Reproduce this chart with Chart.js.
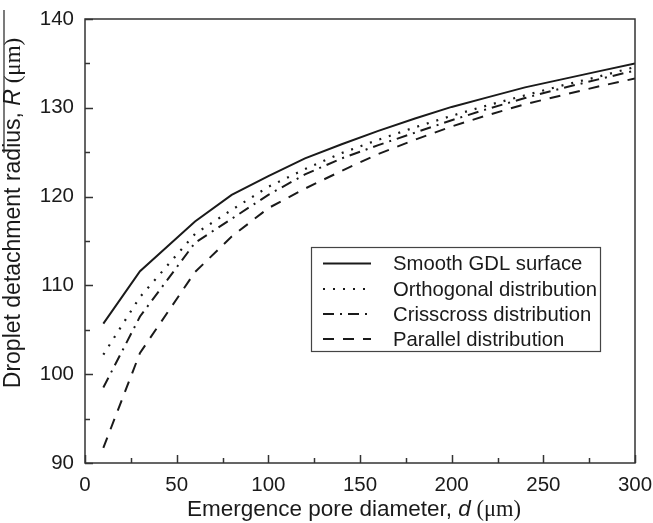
<!DOCTYPE html>
<html>
<head>
<meta charset="utf-8">
<script src="https://cdn.jsdelivr.net/npm/chart.js@4.4.1/dist/chart.umd.min.js"></script>
<style>
html,body{margin:0;padding:0;background:#fff;}
canvas{display:block;}
</style>
</head>
<body>
<canvas id="c" width="653" height="523"></canvas>
<script>
// ---- data ----
const poreDiameter = [10, 30, 60, 80, 100, 120, 140, 160, 180, 200, 220, 240, 260, 280, 300];
const smoothGDL   = [105.7, 111.6, 117.2, 120.2, 122.3, 124.3, 125.9, 127.4, 128.8, 130.1, 131.2, 132.3, 133.2, 134.1, 135.0];
const orthogonal  = [102.2, 108.7, 115.8, 118.5, 121.1, 123.1, 124.9, 126.4, 127.8, 129.1, 130.3, 131.4, 132.5, 133.5, 134.6];
const crisscross  = [98.5, 106.5, 114.8, 117.5, 120.2, 122.5, 124.3, 125.8, 127.2, 128.6, 129.9, 131.1, 132.2, 133.2, 134.2];
const parallel    = [91.7, 102.4, 111.5, 115.5, 118.7, 120.9, 122.9, 124.8, 126.4, 127.9, 129.2, 130.4, 131.4, 132.4, 133.3];
const seriesNames = ['Smooth GDL surface', 'Orthogonal distribution', 'Crisscross distribution', 'Parallel distribution'];
const xMajorTicks = [0, 50, 100, 150, 200, 250, 300];
const yMajorTicks = [90, 100, 110, 120, 130, 140];

const SANS = '"Liberation Sans", Arial, sans-serif';
const SERIF = '"Liberation Serif", "Times New Roman", serif';
const INK = '#1a1a1a';

function pts(ys){ return poreDiameter.map((x,i)=>({x:x, y:ys[i]})); }

const styles = [
  {dash: [], width: 2},
  {dash: [2, 8], width: 2.2},
  {dash: [11, 6, 2, 6], width: 2},
  {dash: [11, 9], width: 2}
];
const seriesData = [smoothGDL, orthogonal, crisscross, parallel];

const datasets = seriesData.map((d,i)=>({
  label: seriesNames[i],
  data: pts(d),
  borderColor: INK,
  backgroundColor: INK,
  borderWidth: styles[i].width,
  borderDash: styles[i].dash,
  pointRadius: 0,
  tension: 0,
  fill: false
}));

function drawRich(ctx, segs, cx, cy, rot){
  ctx.save();
  ctx.translate(cx, cy);
  if (rot) ctx.rotate(rot);
  let total = 0;
  segs.forEach(s=>{ ctx.font = s.f; s.w = ctx.measureText(s.t).width; total += s.w; });
  let x = -total/2;
  ctx.textBaseline = 'middle';
  ctx.textAlign = 'left';
  ctx.fillStyle = INK;
  segs.forEach(s=>{ ctx.font = s.f; ctx.fillText(s.t, x, 0); x += s.w; });
  ctx.restore();
}

const decor = {
  id: 'decor',
  afterDraw(chart){
    const ctx = chart.ctx, a = chart.chartArea, xs = chart.scales.x, ys = chart.scales.y;
    ctx.save();
    // frame
    ctx.strokeStyle = '#333';
    ctx.lineWidth = 1.5;
    ctx.setLineDash([]);
    ctx.strokeRect(a.left, a.top, a.right - a.left, a.bottom - a.top);
    // inward ticks
    for (let v = xs.min; v <= xs.max; v += 25){
      const p = Math.round(xs.getPixelForValue(v)) + 0.5;
      const len = (v % 50 === 0) ? 8 : 5;
      ctx.beginPath(); ctx.moveTo(p, a.bottom); ctx.lineTo(p, a.bottom - len); ctx.stroke();
    }
    for (let v = ys.min; v <= ys.max; v += 5){
      const p = Math.round(ys.getPixelForValue(v)) + 0.5;
      const len = (v % 10 === 0) ? 8 : 5;
      ctx.beginPath(); ctx.moveTo(a.left, p); ctx.lineTo(a.left + len, p); ctx.stroke();
    }
    // legend box
    const bx = 311, by = 247, bw = 289, bh = 104;
    ctx.fillStyle = '#fff';
    ctx.fillRect(bx, by, bw, bh);
    ctx.strokeStyle = '#444';
    ctx.lineWidth = 1.2;
    ctx.strokeRect(bx + 0.5, by + 0.5, bw, bh);
    const rowY = [263.5, 289, 314, 339];
    chart.data.datasets.forEach((ds, i)=>{
      const y = rowY[i];
      ctx.strokeStyle = ds.borderColor;
      ctx.lineWidth = ds.borderWidth;
      ctx.setLineDash(ds.borderDash);
      ctx.beginPath(); ctx.moveTo(323, y); ctx.lineTo(371, y); ctx.stroke();
      ctx.setLineDash([]);
      ctx.fillStyle = INK;
      ctx.font = '20.3px ' + SANS;
      ctx.textBaseline = 'middle';
      ctx.textAlign = 'left';
      ctx.fillText(ds.label, 393, y + 1);
    });
    // axis titles
    drawRich(ctx, [
      {t: 'Emergence pore diameter, ', f: '22.5px ' + SANS},
      {t: 'd', f: 'italic 22.5px ' + SANS},
      {t: ' (\u03BCm)', f: '22.5px ' + SERIF}
    ], 354, 510, 0);
    drawRich(ctx, [
      {t: 'Droplet detachment radius, ', f: '23px ' + SANS},
      {t: 'R', f: 'italic 23px ' + SANS},
      {t: ' (\u03BCm)', f: '23px ' + SERIF}
    ], 14, 213, -Math.PI/2);
    // overline seen above the y title
    ctx.strokeStyle = '#222';
    ctx.lineWidth = 1.2;
    ctx.beginPath(); ctx.moveTo(4, 10); ctx.lineTo(4, 153); ctx.stroke();
    ctx.restore();
  }
};

new Chart(document.getElementById('c'), {
  type: 'line',
  data: { datasets: datasets },
  options: {
    responsive: false,
    animation: false,
    devicePixelRatio: 1,
    layout: { padding: { left: 0, right: 18, top: 19, bottom: 0 } },
    plugins: { legend: { display: false }, tooltip: { enabled: false } },
    scales: {
      x: {
        type: 'linear', min: 0, max: 300,
        afterBuildTicks: s => { s.ticks = xMajorTicks.map(v=>({value:v})); },
        afterFit: s => { s.height = 60; s.paddingLeft = 0; s.paddingRight = 0; },
        grid: { display: false, drawTicks: false },
        border: { display: false },
        ticks: { color: INK, font: { family: SANS, size: 20.5 }, padding: 10, maxRotation: 0 }
      },
      y: {
        type: 'linear', min: 90, max: 140,
        afterBuildTicks: s => { s.ticks = yMajorTicks.map(v=>({value:v})); },
        afterFit: s => { s.width = 85; s.paddingTop = 0; s.paddingBottom = 0; },
        grid: { display: false, drawTicks: false },
        border: { display: false },
        ticks: { color: INK, font: { family: SANS, size: 20.5 }, padding: 11 }
      }
    }
  },
  plugins: [decor]
});
</script>
</body>
</html>
